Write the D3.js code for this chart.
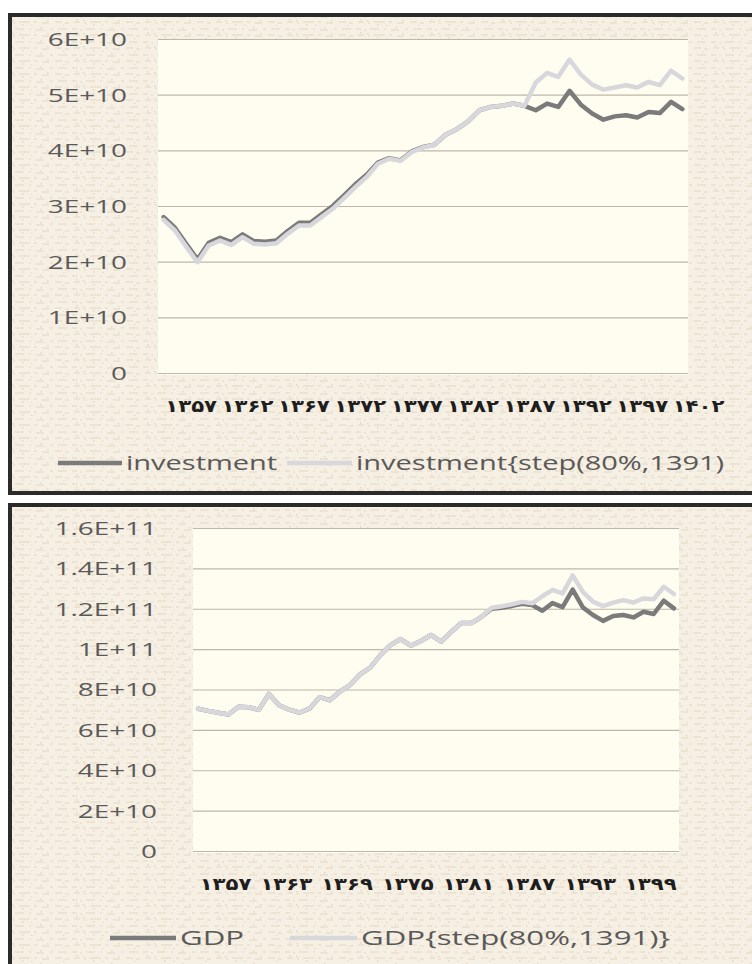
<!DOCTYPE html>
<html>
<head>
<meta charset="utf-8">
<script src="https://cdn.jsdelivr.net/npm/d3@7"></script>
<style>
  body { margin: 0; background: #fff; }
</style>
</head>
<body>
<div id="chart"></div>
<script>
// ---- top chart: investment ----
var years1 = [1357,1358,1359,1360,1361,1362,1363,1364,1365,1366,1367,1368,1369,1370,1371,1372,
              1373,1374,1375,1376,1377,1378,1379,1380,1381,1382,1383,1384,1385,1386,1387,1388,
              1389,1390,1391,1392,1393,1394,1395,1396,1397,1398,1399,1400,1401,1402,1403];
var investment = [2.80e10,2.61e10,2.32e10,2.04e10,2.34e10,2.43e10,2.35e10,2.49e10,2.37e10,2.36e10,
                  2.38e10,2.55e10,2.70e10,2.70e10,2.85e10,3.00e10,3.19e10,3.39e10,3.56e10,3.78e10,
                  3.86e10,3.82e10,3.98e10,4.06e10,4.10e10,4.28e10,4.38e10,4.52e10,4.72e10,4.78e10,
                  4.80e10,4.84e10,4.80e10,4.72e10,4.84e10,4.78e10,5.07e10,4.82e10,4.66e10,4.55e10,
                  4.61e10,4.63e10,4.59e10,4.69e10,4.67e10,4.87e10,4.74e10];
var investmentStep = [2.75e10,2.56e10,2.27e10,1.99e10,2.29e10,2.38e10,2.30e10,2.44e10,2.32e10,2.31e10,
                      2.33e10,2.50e10,2.65e10,2.65e10,2.80e10,2.95e10,3.14e10,3.34e10,3.52e10,3.76e10,
                      3.85e10,3.81e10,3.97e10,4.05e10,4.10e10,4.28e10,4.38e10,4.52e10,4.72e10,4.78e10,
                      4.80e10,4.84e10,4.80e10,5.22e10,5.39e10,5.32e10,5.63e10,5.36e10,5.18e10,5.09e10,
                      5.13e10,5.17e10,5.13e10,5.23e10,5.17e10,5.43e10,5.29e10];
var xTicks1 = [1357,1362,1367,1372,1377,1382,1387,1392,1397,1402];
var xLabels1 = ["۱۳۵۷","۱۳۶۲","۱۳۶۷","۱۳۷۲","۱۳۷۷","۱۳۸۲","۱۳۸۷","۱۳۹۲","۱۳۹۷","۱۴۰۲"];
var yTicks1 = [0,1e10,2e10,3e10,4e10,5e10,6e10];
var yLabels1 = ["0","1E+10","2E+10","3E+10","4E+10","5E+10","6E+10"];

// ---- bottom chart: GDP ----
var years2 = [1357,1358,1359,1360,1361,1362,1363,1364,1365,1366,1367,1368,1369,1370,1371,1372,
              1373,1374,1375,1376,1377,1378,1379,1380,1381,1382,1383,1384,1385,1386,1387,1388,
              1389,1390,1391,1392,1393,1394,1395,1396,1397,1398,1399,1400,1401,1402,1403,1404];
var gdp = [7.05e10,6.94e10,6.85e10,6.76e10,7.15e10,7.12e10,6.99e10,7.78e10,7.22e10,7.00e10,
           6.85e10,7.05e10,7.62e10,7.47e10,7.89e10,8.22e10,8.75e10,9.08e10,9.70e10,1.020e11,
           1.050e11,1.017e11,1.040e11,1.070e11,1.037e11,1.085e11,1.130e11,1.129e11,1.160e11,1.200e11,
           1.205e11,1.214e11,1.225e11,1.218e11,1.190e11,1.228e11,1.208e11,1.295e11,1.207e11,1.169e11,
           1.140e11,1.164e11,1.169e11,1.157e11,1.185e11,1.174e11,1.240e11,1.202e11];
var gdpStep = [7.05e10,6.94e10,6.85e10,6.76e10,7.15e10,7.12e10,6.99e10,7.78e10,7.22e10,7.00e10,
               6.85e10,7.05e10,7.62e10,7.47e10,7.89e10,8.22e10,8.75e10,9.08e10,9.70e10,1.020e11,
               1.050e11,1.017e11,1.040e11,1.070e11,1.037e11,1.085e11,1.130e11,1.129e11,1.160e11,1.205e11,
               1.212e11,1.222e11,1.234e11,1.227e11,1.262e11,1.293e11,1.276e11,1.365e11,1.284e11,1.235e11,
               1.213e11,1.230e11,1.243e11,1.231e11,1.251e11,1.247e11,1.309e11,1.273e11];
var xTicks2 = [1357,1363,1369,1375,1381,1387,1393,1399];
var xLabels2 = ["۱۳۵۷","۱۳۶۳","۱۳۶۹","۱۳۷۵","۱۳۸۱","۱۳۸۷","۱۳۹۳","۱۳۹۹"];
var yTicks2 = [0,2e10,4e10,6e10,8e10,1e11,1.2e11,1.4e11,1.6e11];
var yLabels2 = ["0","2E+10","4E+10","6E+10","8E+10","1E+11","1.2E+11","1.4E+11","1.6E+11"];

var W = 752, H = 964;
var darkColor = "#7b7b7b", lightColor = "#d8d7db";

var svg = d3.select("#chart")
  .append("svg")
    .attr("width", W)
    .attr("height", H);

// faint "paper with writing" texture for the panel backgrounds
var pat = svg.append("defs").append("pattern")
    .attr("id", "paper")
    .attr("patternUnits", "userSpaceOnUse")
    .attr("width", 71)
    .attr("height", 13);
pat.append("rect").attr("width", 71).attr("height", 13).attr("fill", "#f6efe3");
[[1,6,3],[9,11,4],[15,24,3],[29,31,3],[36,44,4],[50,53,3],[58,67,3],
 [3,9,9],[13,15,10],[19,30,9],[34,37,9],[42,49,10],[55,62,9],[65,69,10]].forEach(function(d) {
  pat.append("line")
    .attr("x1", d[0]).attr("x2", d[1])
    .attr("y1", d[2]).attr("y2", d[2])
    .attr("stroke", "#eadfcd")
    .attr("stroke-width", 1.4);
});
[[5,6],[22,11],[40,1],[47,7],[63,12],[12,7],[31,12]].forEach(function(d) {
  pat.append("rect")
    .attr("x", d[0]).attr("y", d[1])
    .attr("width", 1.5).attr("height", 1.5)
    .attr("fill", "#e6d9c5");
});

function drawPanel(cfg) {
  svg.append("rect")
    .attr("x", cfg.box[0])
    .attr("y", cfg.box[1])
    .attr("width", cfg.box[2])
    .attr("height", cfg.box[3])
    .attr("fill", "url(#paper)")
    .attr("stroke", "#2b2b2b")
    .attr("stroke-width", 4);

  var x = d3.scalePoint()
    .domain(cfg.years)
    .range([cfg.left, cfg.right])
    .padding(0.5);
  var y = d3.scaleLinear()
    .domain([0, cfg.yTicks[cfg.yTicks.length - 1]])
    .range([cfg.bottom, cfg.top]);

  svg.append("rect")
    .attr("x", cfg.left)
    .attr("y", cfg.top)
    .attr("width", cfg.right - cfg.left)
    .attr("height", cfg.bottom - cfg.top + 2)
    .attr("fill", "#fffdf0");

  // y axis with gridlines
  var gy = svg.append("g")
    .attr("transform", "translate(" + cfg.left + ",0)")
    .call(d3.axisLeft(y)
      .tickValues(cfg.yTicks)
      .tickSize(-(cfg.right - cfg.left))
      .tickFormat(function(d, i) { return cfg.yLabels[i]; }));
  gy.select(".domain").remove();
  gy.selectAll("line")
    .attr("stroke", "#bcb7aa")
    .attr("stroke-width", 1.2);
  gy.selectAll("text")
    .attr("x", 0)
    .attr("dy", "0.36em")
    .attr("transform", "translate(" + cfg.yLabelDx + ",0) scale(1.55,1)")
    .style("font-family", "'Open Sans', 'DejaVu Sans', sans-serif")
    .style("font-size", "18px")
    .attr("fill", "#5a5a5a");

  // x axis labels (persian years)
  var gx = svg.append("g")
    .attr("transform", "translate(0," + cfg.bottom + ")")
    .call(d3.axisBottom(x)
      .tickValues(cfg.xTicks)
      .tickSize(0)
      .tickFormat(function(d, i) { return cfg.xLabels[i]; }));
  gx.select(".domain").remove();
  gx.selectAll("text")
    .attr("y", 0)
    .attr("dy", 0)
    .attr("transform", "translate(" + cfg.xLabelDx + "," + cfg.xLabelDy + ") scale(1.25,1)")
    .style("font-family", "'DejaVu Sans', sans-serif")
    .style("font-weight", "bold")
    .style("font-size", "17px")
    .attr("fill", "#1e1e1e");

  var line = d3.line()
    .x(function(d, i) { return x(cfg.years[i]); })
    .y(function(d) { return y(d); });

  svg.append("path")
    .datum(cfg.series[0])
    .attr("d", line)
    .attr("fill", "none")
    .attr("stroke", darkColor)
    .attr("stroke-width", 4.5)
    .attr("stroke-linejoin", "round")
    .attr("stroke-linecap", "round");

  svg.append("path")
    .datum(cfg.series[1])
    .attr("d", line)
    .attr("fill", "none")
    .attr("stroke", lightColor)
    .attr("stroke-width", 4.5)
    .attr("stroke-linejoin", "round")
    .attr("stroke-linecap", "round");

  // legend
  var lg = svg.append("g").attr("transform", "translate(0," + cfg.legendY + ")");
  cfg.legend.forEach(function(d, i) {
    lg.append("line")
      .attr("x1", d.x0).attr("x2", d.x1)
      .attr("y1", 0).attr("y2", 0)
      .attr("stroke", i == 0 ? darkColor : lightColor)
      .attr("stroke-width", 4.5);
    lg.append("text")
      .attr("transform", "translate(" + (d.x1 + 4) + ",0) scale(" + cfg.legendScale + ",1)")
      .attr("dy", "0.35em")
      .style("font-family", "'Open Sans', 'DejaVu Sans', sans-serif")
      .style("font-size", "20px")
      .attr("fill", "#595959")
      .text(d.label);
  });
}

drawPanel({
  box: [10, 15, 760, 478],
  left: 158, right: 688, top: 39, bottom: 373,
  years: years1,
  series: [investment, investmentStep],
  xTicks: xTicks1, xLabels: xLabels1,
  yTicks: yTicks1, yLabels: yLabels1,
  yLabelDx: -31, xLabelDx: 27, xLabelDy: 39,
  legendY: 463, legendScale: 1.45,
  legend: [
    {x0: 58, x1: 122, label: "investment"},
    {x0: 287, x1: 352, label: "investment{step(80%,1391)"}
  ]
});

drawPanel({
  box: [10, 505, 760, 480],
  left: 193, right: 679, top: 528, bottom: 851,
  years: years2,
  series: [gdp, gdpStep],
  xTicks: xTicks2, xLabels: xLabels2,
  yTicks: yTicks2, yLabels: yLabels2,
  yLabelDx: -36, xLabelDx: 27, xLabelDy: 39,
  legendY: 938, legendScale: 1.56,
  legend: [
    {x0: 110, x1: 176, label: "GDP"},
    {x0: 290, x1: 357, label: "GDP{step(80%,1391)}"}
  ]
});
</script>
</body>
</html>
